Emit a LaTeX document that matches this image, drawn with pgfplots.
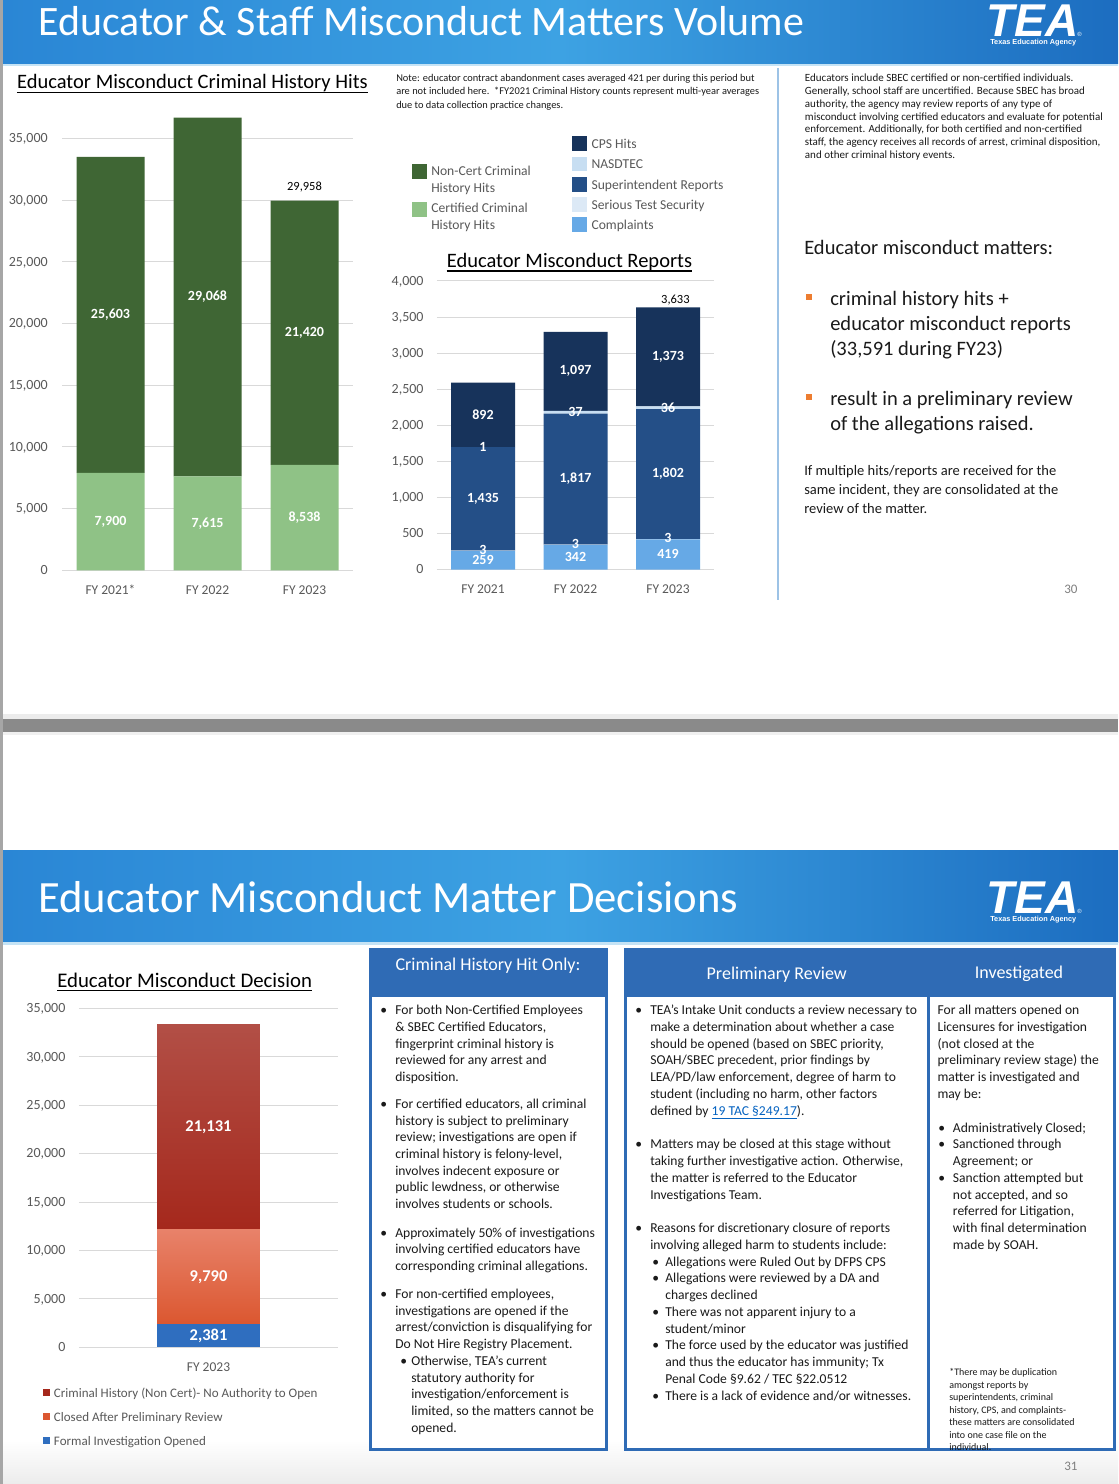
\documentclass[border=0pt]{standalone}
\usepackage{pgfplots}
\pgfplotsset{compat=1.18}
\usepackage{fontspec}
\setmainfont{Carlito}
\newfontfamily\logofont{Liberation Sans}
\definecolor{hdrL}{HTML}{2A86D5}
\definecolor{hdrM}{HTML}{3DA2E3}
\definecolor{hdrR}{HTML}{1C6DC0}
\definecolor{hdrline}{HTML}{C5E3F5}
\definecolor{dkgreen}{HTML}{3F6634}
\definecolor{ltgreen}{HTML}{8FC286}
\definecolor{cps}{HTML}{17335B}
\definecolor{nasd}{HTML}{C7DEF2}
\definecolor{supt}{HTML}{244F87}
\definecolor{sts}{HTML}{DCE9F6}
\definecolor{compl}{HTML}{66A9E6}
\definecolor{crim}{HTML}{A5281C}
\definecolor{crimtop}{HTML}{B24F46}
\definecolor{closed}{HTML}{DB5730}
\definecolor{closedtop}{HTML}{E8826A}
\definecolor{formal}{HTML}{2F6EBF}
\definecolor{boxblue}{HTML}{2F6BB5}
\definecolor{txt}{HTML}{1A1A1A}
\definecolor{axgrey}{HTML}{595959}
\definecolor{gridgrey}{HTML}{D9D9D9}
\definecolor{accent}{HTML}{ED7D31}
\definecolor{linkblue}{HTML}{0563C1}
\definecolor{divider}{HTML}{9DC3E6}
\definecolor{sepgrey}{HTML}{8A8A8A}
\definecolor{pgnum}{HTML}{7F7F7F}
\newcommand\fs[1]{\fontsize{\fpeval{0.75*#1}pt}{\fpeval{0.9*#1}pt}\selectfont}
\newcommand\tl[3]{\node[anchor=mid west,inner sep=0,yshift=-1.2pt] at (#1,#2) {#3};}
\tikzset{lbl/.style={text=white, font=\bfseries\fs{14}}}
\pgfplotsset{
  slide/.style={
    scale only axis, anchor=south west,
    ybar stacked, ymin=0, enlargelimits=false,
    axis line style={draw=none},
    major tick style={draw=none},
    ymajorgrids, grid style={gridgrey, line width=0.75pt},
    scaled y ticks=false,
    tick label style={font=\fs{14}, text=axgrey, inner sep=0pt},
    /pgf/number format/assume math mode=true,
    /pgf/number format/1000 sep={,},
    yticklabel style={anchor=mid east, yshift=-0.9pt},
    xticklabel style={anchor=mid, yshift=-15.6pt, font=\fs{13.5}},
    clip=false,
  },
}
\begin{document}
\begin{tikzpicture}[x=0.75pt,y=-0.75pt]
\useasboundingbox (0,0) rectangle (1118,1484);
\fill[white] (0,0) rectangle (1118,1484);
% ---------------- slide 1 ----------------
\fill[left color=hdrL,right color=hdrR,middle color=hdrM] (3,0) rectangle (1118,64);
\fill[hdrline] (3,64) rectangle (1118,66.5);
\node[anchor=base west,inner sep=0,text=white,font=\fs{41.9}] at (38,36) {Educator \& Staff Misconduct Matters Volume};
\node[anchor=base west,inner sep=0,text=white,font=\logofont\bfseries\itshape\fs{46}] at (986,37) {TEA};
\node[anchor=base west,inner sep=0,text=white,font=\logofont\bfseries\fs{7.3}] at (990,45) {Texas Education Agency};
\node[anchor=base west,inner sep=0,text=white,font=\logofont\fs{6}] at (1077,37) {®};
% chart 1 title
\node[anchor=base,inner sep=0,font=\fs{20.5}] (t1) at (192.5,89) {Educator Misconduct Criminal History Hits};
\draw[line width=1pt] ([yshift=-2.6pt]t1.base west) -- ([yshift=-2.6pt]t1.base east);
% note
\begin{scope}[every node/.append style={font=\fs{10.4},text=txt}]
\tl{396}{76.7}{Note: educator contract abandonment cases averaged 421 per during this period but}
\tl{396}{90}{are not included here.\ \ *FY2021 Criminal History counts represent multi-year averages}
\tl{396}{103.3}{due to data collection practice changes.}
\end{scope}
% legends
\fill[dkgreen] (412,164.3) rectangle (427,179.3);
\fill[ltgreen] (412,202) rectangle (427,217);
\fill[cps] (572,136) rectangle (587,150.7);
\fill[nasd] (572,156.7) rectangle (587,171.3);
\fill[supt] (572,177) rectangle (587,191.7);
\fill[sts] (572,197.3) rectangle (587,212);
\fill[compl] (572,217.3) rectangle (587,232);
\begin{scope}[every node/.append style={font=\fs{13.6},text=axgrey}]
\tl{431}{171}{Non-Cert Criminal}
\tl{431}{187.7}{History Hits}
\tl{431}{207.7}{Certified Criminal}
\tl{431}{224.3}{History Hits}
\tl{591.3}{143.3}{CPS Hits}
\tl{591.3}{164}{NASDTEC}
\tl{591.3}{184.3}{Superintendent Reports}
\tl{591.3}{204.7}{Serious Test Security}
\tl{591.3}{224.7}{Complaints}
\end{scope}
% chart 2 title
\node[anchor=base,inner sep=0,font=\fs{20.5}] (t2) at (569.5,267.5) {Educator Misconduct Reports};
\draw[line width=1pt] ([yshift=-2.6pt]t2.base west) -- ([yshift=-2.6pt]t2.base east);
% chart 1
\begin{axis}[slide, at={(46.5pt,-427.725pt)}, width=218.25pt, height=342.5pt,
  xmin=-0.5, xmax=2.5, ymax=37000, ytick={0,5000,...,35000},
  xtick={0,1,2}, xticklabels={FY 2021*,FY 2022,FY 2023},
  bar width=51pt, yticklabel style={xshift=-10.5pt}]
\addplot[fill=ltgreen, draw=none] coordinates {(0,7900) (1,7615) (2,8538)};
\addplot[fill=dkgreen, draw=none] coordinates {(0,25603) (1,29068) (2,21420)};
\coordinate (a1) at (axis cs:0,3950);
\coordinate (a2) at (axis cs:1,3807.5);
\coordinate (a3) at (axis cs:2,4269);
\coordinate (a4) at (axis cs:0,20701.5);
\coordinate (a5) at (axis cs:1,22149);
\coordinate (a6) at (axis cs:2,19248);
\coordinate (a7) at (axis cs:2,31044);
\end{axis}
\node[lbl] at (a1) {7,900};
\node[lbl] at (a2) {7,615};
\node[lbl] at (a3) {8,538};
\node[lbl] at (a4) {25,603};
\node[lbl] at (a5) {29,068};
\node[lbl] at (a6) {21,420};
\node[font=\fs{12.5}] at (a7) {29,958};
% chart 2
\begin{axis}[slide, at={(327.5625pt,-427.125pt)}, width=208.125pt, height=216.4pt,
  xmin=-0.5, xmax=2.5, ymax=4000, ytick={0,500,...,4000},
  xtick={0,1,2}, xticklabels={FY 2021,FY 2022,FY 2023},
  bar width=48pt, yticklabel style={xshift=-9.7pt}]
\addplot[fill=compl, draw=none] coordinates {(0,259) (1,342) (2,419)};
\addplot[fill=sts, draw=none] coordinates {(0,3) (1,3) (2,3)};
\addplot[fill=supt, draw=none] coordinates {(0,1435) (1,1817) (2,1802)};
\addplot[fill=nasd, draw=none] coordinates {(0,1) (1,37) (2,36)};
\addplot[fill=cps, draw=none] coordinates {(0,892) (1,1097) (2,1373)};
\coordinate (b1) at (axis cs:0,129.5);
\coordinate (b2) at (axis cs:1,171);
\coordinate (b3) at (axis cs:2,209.5);
\coordinate (b4) at (axis cs:0,275);
\coordinate (b5) at (axis cs:1,358);
\coordinate (b6) at (axis cs:2,435);
\coordinate (b7) at (axis cs:0,979.5);
\coordinate (b8) at (axis cs:1,1253.5);
\coordinate (b9) at (axis cs:2,1323);
\coordinate (b10) at (axis cs:0,1697.5);
\coordinate (b11) at (axis cs:1,2180.5);
\coordinate (b12) at (axis cs:2,2242);
\coordinate (b13) at (axis cs:0,2144);
\coordinate (b14) at (axis cs:1,2747.5);
\coordinate (b15) at (axis cs:2,2946.5);
\coordinate (b16) at (axis cs:2.08,3730);
\end{axis}
\node[lbl] at (b1) {259};
\node[lbl] at (b2) {342};
\node[lbl] at (b3) {419};
\node[lbl] at (b4) {3};
\node[lbl] at (b5) {3};
\node[lbl] at (b6) {3};
\node[lbl] at (b7) {1,435};
\node[lbl] at (b8) {1,817};
\node[lbl] at (b9) {1,802};
\node[lbl] at (b10) {1};
\node[lbl] at (b11) {37};
\node[lbl] at (b12) {36};
\node[lbl] at (b13) {892};
\node[lbl] at (b14) {1,097};
\node[lbl] at (b15) {1,373};
\node[font=\fs{12.5}] at (b16) {3,633};
% divider
\draw[divider, line width=1.1pt] (778,68) -- (778,600);
% right column
\begin{scope}[every node/.append style={font=\fs{11},text=txt}]
\tl{804.7}{76.7}{Educators include SBEC certified or non-certified individuals.}
\tl{804.7}{90}{Generally, school staff are uncertified. Because SBEC has broad}
\tl{804.7}{102.7}{authority, the agency may review reports of any type of}
\tl{804.7}{115.3}{misconduct involving certified educators and evaluate for potential}
\tl{804.7}{127.7}{enforcement. Additionally, for both certified and non-certified}
\tl{804.7}{140.3}{staff, the agency receives all records of arrest, criminal disposition,}
\tl{804.7}{153.3}{and other criminal history events.}
\end{scope}
\begin{scope}[every node/.append style={font=\fs{20.5},text=txt}]
\tl{804}{250}{Educator misconduct matters:}
\tl{830}{301}{criminal history hits +}
\tl{830}{326}{educator misconduct reports}
\tl{830}{351}{(33,591 during FY23)}
\tl{830}{401}{result in a preliminary review}
\tl{830}{426}{of the allegations raised.}
\end{scope}
\fill[accent] (806,294) rectangle (812,300);
\fill[accent] (806,394) rectangle (812,400);
\begin{scope}[every node/.append style={font=\fs{14.5},text=txt}]
\tl{804}{471}{If multiple hits/reports are received for the}
\tl{804}{490}{same incident, they are consolidated at the}
\tl{804}{509}{review of the matter.}
\end{scope}
\node[anchor=mid west,inner sep=0,font=\fs{13},text=pgnum] at (1064,590) {30};
% separator
\fill[gray!15] (0,714) rectangle (1118,719);
\fill[sepgrey] (0,719) rectangle (1118,732);
\fill[gray!12] (0,732) rectangle (1118,735);
% ---------------- slide 2 ----------------
\shade[top color=white,bottom color=gray!15] (3,1440) rectangle (1118,1484);
\fill[left color=hdrL,right color=hdrR,middle color=hdrM] (3,850) rectangle (1118,942);
\fill[hdrline] (3,942) rectangle (1118,944.5);
\node[anchor=base west,inner sep=0,text=white,font=\fs{44.7}] at (38,912) {Educator Misconduct Matter Decisions};
\node[anchor=base west,inner sep=0,text=white,font=\logofont\bfseries\itshape\fs{46}] at (986,913) {TEA};
\node[anchor=base west,inner sep=0,text=white,font=\logofont\bfseries\fs{7.3}] at (990,921) {Texas Education Agency};
\node[anchor=base west,inner sep=0,text=white,font=\logofont\fs{6}] at (1077,913) {®};
% chart 3 title
\node[anchor=base,inner sep=0,font=\fs{20.8}] (t3) at (184.7,987.3) {Educator Misconduct Decision};
\draw[line width=1pt] ([yshift=-2.6pt]t3.base west) -- ([yshift=-2.6pt]t3.base east);
% chart 3
\begin{axis}[slide, at={(59.25pt,-1010.475pt)}, width=194.25pt, height=254.25pt,
  xmin=-1.25, xmax=1.25, ymax=35000, ytick={0,5000,...,35000},
  xtick={0}, xticklabels={FY 2023},
  bar width=77pt, yticklabel style={xshift=-10pt}]
\addplot[fill=formal, draw=none] coordinates {(0,2381)};
\addplot[draw=none, top color=closedtop, bottom color=closed] coordinates {(0,9790)};
\addplot[draw=none, top color=crimtop, bottom color=crim] coordinates {(0,21131)};
\coordinate (c1) at (axis cs:0,1190.5);
\coordinate (c2) at (axis cs:0,7276);
\coordinate (c3) at (axis cs:0,22736.5);
\end{axis}
\node[text=white,font=\bfseries\fs{16.5}] at (c1) {2,381};
\node[text=white,font=\bfseries\fs{16.5}] at (c2) {9,790};
\node[text=white,font=\bfseries\fs{16.5}] at (c3) {21,131};
% chart 3 legend
\fill[crim] (43,1389.2) rectangle (50,1396.2);
\fill[closed] (43,1412.8) rectangle (50,1419.8);
\fill[formal] (43,1437.2) rectangle (50,1444.2);
\begin{scope}[every node/.append style={font=\fs{13},text=axgrey}]
\tl{53.7}{1392.7}{Criminal History (Non Cert)- No Authority to Open}
\tl{53.7}{1416.3}{Closed After Preliminary Review}
\tl{53.7}{1440.7}{Formal Investigation Opened}
\end{scope}
% boxes
\fill[white] (370,996) rectangle (606,1449);
\fill[white] (625,996) rectangle (1114,1449);
\draw[boxblue, line width=2.25pt] (370,949.5) rectangle (606,1449);
\fill[boxblue] (368.5,948) rectangle (607.5,996.7);
\draw[boxblue, line width=2.25pt] (625,949.5) rectangle (1114.5,1449);
\fill[boxblue] (623.5,948) rectangle (1116,996.7);
\draw[boxblue, line width=2.25pt] (928.5,996) -- (928.5,1449);
\node[text=white,font=\fs{18}] at (488,966) {Criminal History Hit Only:};
\node[text=white,font=\fs{18}] at (776.7,974.3) {Preliminary Review};
\node[text=white,font=\fs{18}] at (1019,974) {Investigated};
% box 1 text
\begin{scope}[every node/.append style={font=\fs{13.6},text=txt}]
\tl{380}{1009.3}{•}
\tl{395}{1009.3}{For both Non-Certified Employees}
\tl{395}{1026.7}{\& SBEC Certified Educators,}
\tl{395}{1043.3}{fingerprint criminal history is}
\tl{395}{1060}{reviewed for any arrest and}
\tl{395}{1076.7}{disposition.}
\tl{380}{1103.7}{•}
\tl{395}{1103.7}{For certified educators, all criminal}
\tl{395}{1120.3}{history is subject to preliminary}
\tl{395}{1137}{review; investigations are open if}
\tl{395}{1153.7}{criminal history is felony-level,}
\tl{395}{1170.3}{involves indecent exposure or}
\tl{395}{1187}{public lewdness, or otherwise}
\tl{395}{1203.7}{involves students or schools.}
\tl{380}{1232.3}{•}
\tl{395}{1232.3}{Approximately 50\% of investigations}
\tl{395}{1249}{involving certified educators have}
\tl{395}{1265.7}{corresponding criminal allegations.}
\tl{380}{1293.7}{•}
\tl{395}{1293.7}{For non-certified employees,}
\tl{395}{1310.3}{investigations are opened if the}
\tl{395}{1327}{arrest/conviction is disqualifying for}
\tl{395}{1343.7}{Do Not Hire Registry Placement.}
\tl{400}{1360.7}{•}
\tl{411}{1360.7}{Otherwise, TEA’s current}
\tl{411}{1377.3}{statutory authority for}
\tl{411}{1394}{investigation/enforcement is}
\tl{411}{1410.7}{limited, so the matters cannot be}
\tl{411}{1427.3}{opened.}
% box 2 text
\tl{635}{1009.3}{•}
\tl{650}{1009.3}{TEA’s Intake Unit conducts a review necessary to}
\tl{650}{1026.7}{make a determination about whether a case}
\tl{650}{1043.3}{should be opened (based on SBEC priority,}
\tl{650}{1060}{SOAH/SBEC precedent, prior findings by}
\tl{650}{1076.7}{LEA/PD/law enforcement, degree of harm to}
\tl{650}{1093.3}{student (including no harm, other factors}
\tl{650}{1110.7}{defined by \textcolor{linkblue}{\underline{19 TAC §249.17}}).}
\tl{635}{1143.7}{•}
\tl{650}{1143.7}{Matters may be closed at this stage without}
\tl{650}{1160.7}{taking further investigative action. Otherwise,}
\tl{650}{1177.3}{the matter is referred to the Educator}
\tl{650}{1194.7}{Investigations Team.}
\tl{635}{1227.7}{•}
\tl{650}{1227.7}{Reasons for discretionary closure of reports}
\tl{650}{1244.7}{involving alleged harm to students include:}
\tl{652}{1261.3}{•}
\tl{665}{1261.3}{Allegations were Ruled Out by DFPS CPS}
\tl{652}{1277.7}{•}
\tl{665}{1277.7}{Allegations were reviewed by a DA and}
\tl{665}{1294.7}{charges declined}
\tl{652}{1311.7}{•}
\tl{665}{1311.7}{There was not apparent injury to a}
\tl{665}{1328.7}{student/minor}
\tl{652}{1344.3}{•}
\tl{665}{1344.3}{The force used by the educator was justified}
\tl{665}{1361.3}{and thus the educator has immunity; Tx}
\tl{665}{1378.3}{Penal Code §9.62 / TEC §22.0512}
\tl{652}{1395.7}{•}
\tl{665}{1395.7}{There is a lack of evidence and/or witnesses.}
% box 3 text
\tl{937.3}{1010}{For all matters opened on}
\tl{937.3}{1026.7}{Licensures for investigation}
\tl{937.3}{1043.3}{(not closed at the}
\tl{937.3}{1060}{preliminary review stage) the}
\tl{937.3}{1076.7}{matter is investigated and}
\tl{937.3}{1093.3}{may be:}
\tl{938}{1127.3}{•}
\tl{952.7}{1127.3}{Administratively Closed;}
\tl{938}{1144}{•}
\tl{952.7}{1144}{Sanctioned through}
\tl{952.7}{1160.7}{Agreement; or}
\tl{938}{1177.3}{•}
\tl{952.7}{1177.3}{Sanction attempted but}
\tl{952.7}{1194.7}{not accepted, and so}
\tl{952.7}{1210.7}{referred for Litigation,}
\tl{952.7}{1228}{with final determination}
\tl{952.7}{1244.7}{made by SOAH.}
\end{scope}
\begin{scope}[every node/.append style={font=\fs{10},text=txt}]
\tl{949}{1371}{*There may be duplication}
\tl{949}{1383.4}{amongst reports by}
\tl{949}{1395.8}{superintendents, criminal}
\tl{949}{1408.3}{history, CPS, and complaints-}
\tl{949}{1420.8}{these matters are consolidated}
\tl{949}{1433.3}{into one case file on the}
\tl{949}{1445.7}{individual.}
\end{scope}
\node[anchor=mid west,inner sep=0,font=\fs{13},text=pgnum] at (1064,1467) {31};
% left edge
\fill[gray!70] (0,0) rectangle (3,1484);
\end{tikzpicture}
\end{document}
